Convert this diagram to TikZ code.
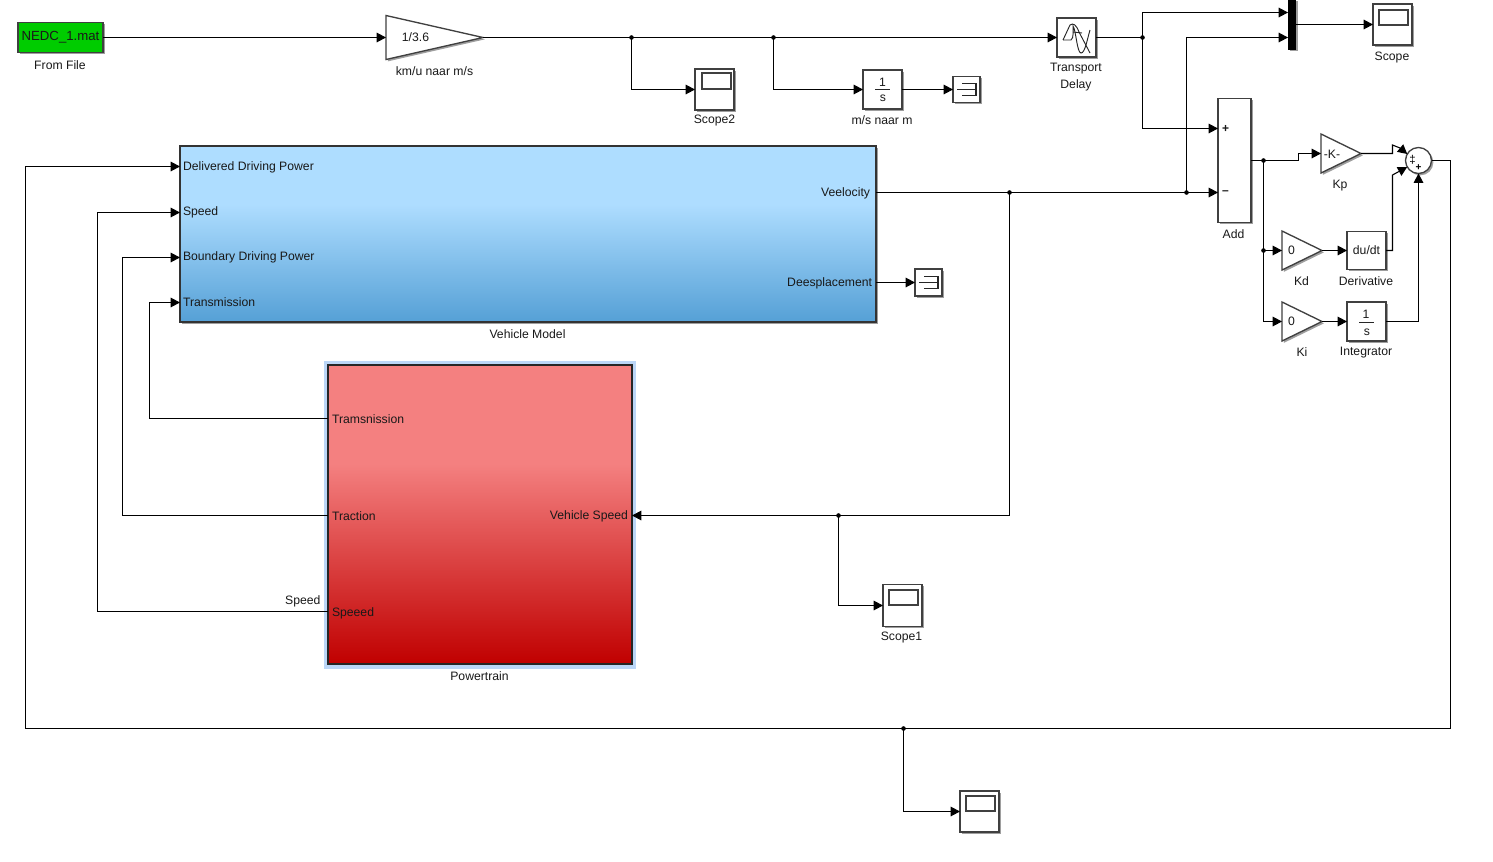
\documentclass[tikz,border=0pt]{standalone}
\usepackage{fontspec}
\setmainfont{Liberation Sans}
\usetikzlibrary{arrows.meta,shapes.geometric,shadows,calc}
\definecolor{vmA}{HTML}{AEDDFF}\definecolor{vmC}{HTML}{55A0D6}
\definecolor{ptA}{HTML}{F48080}\definecolor{ptC}{HTML}{C00000}
\pgfdeclareverticalshading{vmshade}{100bp}{color(0bp)=(vmC);color(25bp)=(vmC);color(58.5bp)=(vmA);color(100bp)=(vmA)}
\pgfdeclareverticalshading{ptshade}{100bp}{color(0bp)=(ptC);color(25bp)=(ptC);color(58.5bp)=(ptA);color(100bp)=(ptA)}
\def\px{0.75pt}
\tikzset{
  x=0.75pt,y=-0.75pt,
  every node/.style={font=\fontsize{9.15}{11}\selectfont,text=black!90,inner sep=0pt,outer sep=0pt},
  softshadow/.style={drop shadow={shadow xshift=1.4pt,shadow yshift=-1.4pt,opacity=0.38,fill=black}},
  blockbox/.style={draw=black!75,line width=1pt,fill=white,softshadow},
  bw/.style={minimum width=#1*\px},
  bh/.style={minimum height=#1*\px},
  gainbox/.style={isosceles triangle,isosceles triangle stretches,shape border rotate=0,draw=black!75,line width=1pt,fill=white,softshadow,minimum width=39*\px,minimum height=40*\px,anchor=lower side},
  conn/.style={draw=black,line width=0.8pt,-{Triangle[length=7pt,width=7.2pt]}},
  wire/.style={draw=black,line width=0.8pt},
  dotn/.style={circle,fill=black,minimum size=4.6*\px},
  glyph/.style={line width=0.9pt,draw=black!85},
  labl/.style={anchor=center,yshift=-0.7pt},
  portl/.style={anchor=west,yshift=-0.7pt},
  portr/.style={anchor=east,yshift=-0.7pt},
  sumsign/.style={font=\fontsize{8}{8}\selectfont\bfseries,text=black},
}
\begin{document}
\begin{tikzpicture}
\useasboundingbox[fill=white] (0,0) rectangle (1493,861);

% blocks
\node[draw=black!75,line width=1pt,fill={rgb,255:red,0;green,204;blue,0},softshadow,bw=85,bh=30,font=\fontsize{9.9}{11}\selectfont] (file) at (60.5,37.5) {NEDC\_1.mat};
\node[labl] (fileL) at (60,64) {From File};

\node[gainbox,minimum width=44*\px,minimum height=97*\px] (g36) at (386,37.5) {};
\node[labl] (g36T) at (415.5,36) {1/3.6};
\node[labl] (g36L) at (434.5,70) {km/u naar m/s};

\node[blockbox,bw=39,bh=41] (scope2) at (714.5,89.5) {};
\node[draw=black!75,line width=0.9pt,bw=29,bh=16] (scope2S) at (716.5,81) {};
\node[labl] (scope2L) at (714.5,120) {Scope2};

\node[blockbox,bw=39,bh=39] (int1) at (882.5,89.5) {};
\node[labl,align=center] (int1T1) at (882.5,81) {1};
\node[labl] (int1T2) at (883,97.5) {s};
\draw[line width=0.7pt,black!85] (875,89.5) -- (890,89.5);
\node[labl] (int1L) at (882,119.5) {m/s naar m};

\node[blockbox,bw=27,bh=26] (term1) at (966.5,89.5) {};
\draw[glyph] (962,83.5) -- (976,83.5) -- (976,95.5) -- (962,95.5) (957,89.5) -- (976,89.5);

\node[blockbox,bw=39,bh=39] (delay) at (1076.5,37.5) {};
\draw[line width=0.7pt,black!85] (1063,40) -- (1070,25) .. controls (1073,23) and (1076,24) .. (1079,32) -- (1090,53);
\draw[line width=0.7pt,black!85] (1063,40) -- (1071,40) .. controls (1074,38) and (1073,30) .. (1073,26) .. controls (1076,30) and (1077,53) .. (1081,53) .. controls (1085,53) and (1087,40) .. (1090,30);
\draw[line width=0.7pt,black!85] (1073,32) -- (1082,33);
\node[labl] (delayL1) at (1076,68) {Transport};
\node[labl] (delayL2) at (1076,84.5) {Delay};

\node[fill=black,softshadow,bw=8,bh=50] (mux) at (1292,24.5) {};
\coordinate (muxA) at (1288,12.5);
\coordinate (muxB) at (1288,37.5);

\node[blockbox,bw=39,bh=41] (scope) at (1392.5,24.5) {};
\node[draw=black!75,line width=0.9pt,bw=29,bh=15] (scopeS) at (1393.5,17.5) {};
\node[labl] (scopeL) at (1392,56.5) {Scope};

\node[blockbox,bw=33,bh=124] (add) at (1234.5,160.5) {};
\coordinate (addP) at (1218,128.5);
\coordinate (addM) at (1218,192.5);
\node[labl,font=\fontsize{9}{9}\selectfont\bfseries] (addPT) at (1225.5,128.5) {+};
\node[labl,font=\fontsize{9}{9}\selectfont\bfseries] (addMT) at (1225.5,192) {--};
\node[labl] (addL) at (1233.5,233.5) {Add};

\node[gainbox,minimum width=39*\px,minimum height=40*\px] (kp) at (1321,153.5) {};
\node[labl] (kpT) at (1332,153) {-K-};
\node[labl] (kpL) at (1340,184.5) {Kp};

\node[gainbox,minimum width=39*\px,minimum height=40*\px] (kd) at (1282,250.5) {};
\node[labl] (kdT) at (1291.5,249.5) {0};
\node[labl] (kdL) at (1301.5,280.5) {Kd};

\node[blockbox,bw=39,bh=38] (der) at (1366.5,250.5) {du/dt};
\node[labl] (derL) at (1366,280.5) {Derivative};

\node[gainbox,minimum width=39*\px,minimum height=40*\px] (ki) at (1282,321.5) {};
\node[labl] (kiT) at (1291.5,320.5) {0};
\node[labl] (kiL) at (1302,351.5) {Ki};

\node[blockbox,bw=39,bh=39] (int2) at (1366.5,321.5) {};
\node[labl] (int2T1) at (1366,313) {1};
\node[labl] (int2T2) at (1367,331) {s};
\draw[line width=0.7pt,black!85] (1359,322.5) -- (1374,322.5);
\node[labl] (int2L) at (1366,351.5) {Integrator};

\node[circle,draw=black!75,line width=1pt,fill=white,softshadow,minimum size=26*\px] (sum) at (1418.5,160.5) {};
\node[sumsign,font=\fontsize{8.5}{8.5}\selectfont] (s1) at (1412.5,160) {‡};
\node[sumsign,font=\fontsize{7.5}{7.5}\selectfont\bfseries] (s3) at (1418.5,167.5) {+};

% vehicle model
\node[draw=black!80,line width=1pt,shade,shading=vmshade,softshadow,bw=696,bh=176] (vm) at (528,234) {};
\coordinate (vmA) at (180,166.5);
\coordinate (vmB) at (180,212.5);
\coordinate (vmC) at (180,257.5);
\coordinate (vmD) at (180,302.5);
\coordinate (vmV) at (876,192.5);
\coordinate (vmS) at (876,282.5);
\node[portl] (vm1) at (183,166) {Delivered Driving Power};
\node[portl] (vm2) at (183,211) {Speed};
\node[portl] (vm3) at (183,256) {Boundary Driving Power};
\node[portl] (vm4) at (183,301) {Transmission};
\node[portr] (vm5) at (870,192) {Veelocity};
\node[portr] (vm6) at (872,282) {Deesplacement};
\node[labl] (vmL) at (527.5,333.5) {Vehicle Model};

\node[blockbox,bw=27,bh=27] (term2) at (928.5,282.5) {};
\draw[glyph] (924,276.5) -- (938,276.5) -- (938,288.5) -- (924,288.5) (919,282.5) -- (938,282.5);

% powertrain
\node[fill={rgb,255:red,187;green,214;blue,247},bw=312,bh=308] (ptH) at (480,515) {};
\node[draw=black!85,line width=1pt,shade,shading=ptshade,bw=304,bh=299] (pt) at (480,514.5) {};
\coordinate (ptA) at (328,418.5);
\coordinate (ptB) at (328,515.5);
\coordinate (ptC) at (328,611.5);
\coordinate (ptV) at (632,515.5);
\node[portl] (pt1) at (332,418) {Tramsnission};
\node[portl] (pt2) at (332,515) {Traction};
\node[portl] (pt3) at (332,612) {Speeed};
\node[portr] (pt4) at (628,515) {Vehicle Speed};
\node[portr] (ptSpeed) at (320.5,600) {Speed};
\node[labl] (ptL) at (479.5,675.5) {Powertrain};

\node[blockbox,bw=39,bh=42] (scope1) at (902.5,605.5) {};
\node[draw=black!75,line width=0.9pt,bw=29,bh=15] (scope1S) at (903.5,597.5) {};
\node[labl] (scope1L) at (901.5,636.5) {Scope1};

\node[blockbox,bw=39,bh=41] (scope3) at (979.5,811.5) {};
\node[draw=black!75,line width=0.9pt,bw=29,bh=15] (scope3S) at (980.5,803.5) {};

% junctions
\node[dotn] (j1) at (631.5,37.5) {};
\node[dotn] (j2) at (773.5,37.5) {};
\node[dotn] (j3) at (1142.5,37.5) {};
\node[dotn] (j4) at (1186.5,192.5) {};
\node[dotn] (j5) at (1009.5,192.5) {};
\node[dotn] (j6) at (838.5,515.5) {};
\node[dotn] (j7) at (1263.5,160.5) {};
\node[dotn] (j8) at (1263.5,250.5) {};
\node[dotn] (j9) at (903.5,728.5) {};

% connectors
\draw[conn] (file.east) -- (g36.lower side);
\draw[conn] (g36.apex) -- (delay.west);
\draw[conn] (j1.center) |- (scope2.west);
\draw[conn] (j2.center) |- (int1.west);
\draw[conn] (int1.east) -- (term1.west);
\draw[wire] (delay.east) -- (j3.center);
\draw[conn] (j3.center) |- (muxA);
\draw[conn] (j3.center) |- (addP);
\draw[conn] (j4.center) |- (muxB);
\draw[conn] (mux.east |- scope.west) -- (scope.west);
\draw[conn] (vmV) -- (addM);
\draw[conn] (vmS) -- (term2.west);
\draw[wire] (j5.center) |- (j6.center);
\draw[conn] (j6.center) -- (ptV);
\draw[conn] (j6.center) |- (scope1.west);
\draw[wire] (add.east) -- (j7.center);
\draw[conn] (j7.center) -- (1298.5,160.5) -- (1298.5,153.5) -- (kp.lower side);
\draw[conn] (j7.center) |- (ki.lower side);
\draw[conn] (j8.center) -- (kd.lower side);
\draw[conn] (kd.apex) -- (der.west);
\draw[conn] (ki.apex) -- (int2.west);
\draw[conn] (kp.apex) -- (1392.5,153.5) -- (1392.5,145) -- (1400,148) -- (sum.150);
\draw[conn] (der.east) -- (1392.5,250.5) -- (1392.5,175) -- (1398,172) -- (sum.210);
\draw[conn] (int2.east) -| (sum.south);
\draw[conn] (sum.east) -- (1450.5,160.5) -- (1450.5,728.5) -- (25.5,728.5) |- (vmA);
\draw[conn] (j9.center) |- (scope3.west);
\draw[conn] (ptA) -- (149.5,418.5) |- (vmD);
\draw[conn] (ptB) -- (122.5,515.5) |- (vmC);
\draw[conn] (ptC) -- (97.5,611.5) |- (vmB);
\end{tikzpicture}
\end{document}
